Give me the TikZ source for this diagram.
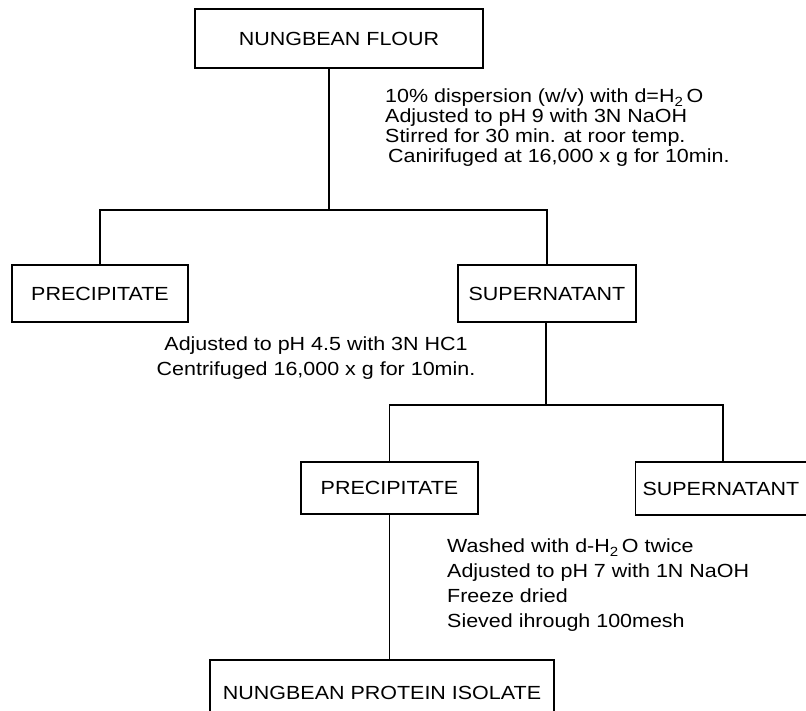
\documentclass[tikz,border=0pt]{standalone}
\usepackage{fontspec}
\newfontfamily\diagfont[FakeStretch=1.13]{Liberation Sans}
\begin{document}
\begin{tikzpicture}[x=1pt,y=-1pt,
  every node/.style={font=\diagfont\fontsize{19}{20}\selectfont},
  box/.style={draw, line width=1.2pt, inner sep=0pt, minimum height=57pt},
  link/.style={line width=1.1pt},
  note/.style={inner sep=0pt, align=left},
  notec/.style={inner sep=0pt, align=center}]
\useasboundingbox (0,0) rectangle (806,711);
% boxes
\node[box, minimum width=288pt, minimum height=59pt] (flour) at (339,38.5) {NUNGBEAN FLOUR};
\node[box, minimum width=176pt] (p1) at (100,293.5) {PRECIPITATE};
\node[box, minimum width=178pt] (s1) at (547,293.5) {SUPERNATANT};
\node[box, minimum width=177pt, minimum height=52pt] (p2) at (389.5,488) {PRECIPITATE};
\node[box, anchor=west, minimum height=53pt, text width=181pt, inner xsep=7pt, align=left] (s2) at (635,488.5) {SUPERNATANT};
\node[box, minimum width=344pt, minimum height=65pt] (iso) at (382,692.5) {NUNGBEAN PROTEIN ISOLATE};
% junctions
\coordinate (j1) at (329,210);
\coordinate (j2) at (546,405);
\coordinate (j3) at (723,405);
% connectors
\draw[link] (flour.south -| j1) -- (j1);
\draw[link] (p1.north) |- (j1) -| (s1.north);
\draw[link] (s1.south -| j2) -- (j2);
\draw[link] (p2.north) |- (j2) -- (j3) -- (j3 |- s2.north);
\draw[link] (p2.south) -- (p2.south |- iso.north);
% notes
\node[note, anchor=north west] (n1) at (385,89) {10\% dispersion (w/v) with d=H\textsubscript{2}\,O\\
Adjusted to pH 9 with 3N NaOH\\
Stirred for 30 min. at roor temp.\\
\hspace*{3pt}Canirifuged at 16,000 x g for 10min.};
\node[notec, anchor=north, font=\diagfont\fontsize{19}{25}\selectfont] (n2) at (316,337) {Adjusted to pH 4.5 with 3N HC1\\
Centrifuged 16,000 x g for 10min.};
\node[note, anchor=north west, font=\diagfont\fontsize{19}{25}\selectfont] (n3) at (447,539) {Washed with d-H\textsubscript{2}\,O twice\\
Adjusted to pH 7 with 1N NaOH\\
Freeze dried\\
Sieved ihrough 100mesh};
\end{tikzpicture}
\end{document}
